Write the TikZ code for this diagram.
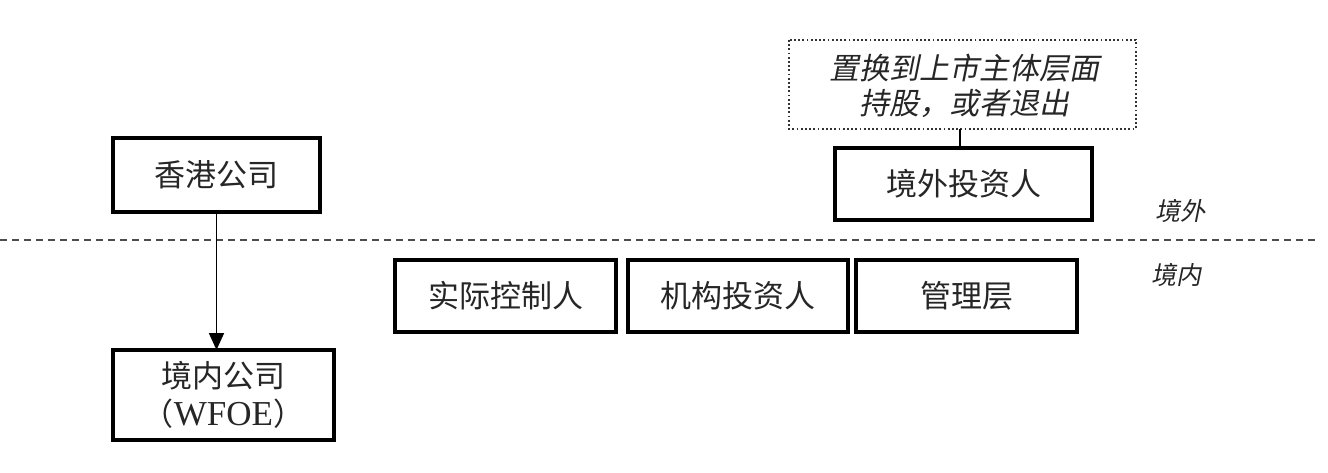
\documentclass[tikz,border=0pt]{standalone}
\usepackage{fontspec}
\setmainfont{Liberation Serif}
\newfontfamily\cjk{Noto Sans CJK SC}
\newfontfamily\cjki[FakeSlant=0.2]{Noto Sans CJK SC}
\usetikzlibrary{arrows.meta}
\begin{document}
\begin{tikzpicture}[x=1pt,y=-1pt,
  boxst/.style={draw,line width=3.2pt,inner sep=0pt},
  lbl/.style={font=\cjk\fontsize{31}{38}\selectfont,text=black!85},
  conn/.style={line width=1.8pt}]
\useasboundingbox (0,0) rectangle (1328,472);
\fill[white] (0,0) rectangle (1328,472);
% dashed border line
\draw[line width=1.8pt,black!70,dash pattern=on 7pt off 5pt] (0,240) -- (1318,240);
% boxes
\draw[boxst] (113,138) rectangle (320,212); \node[lbl] (hk) at (216.5,175) {香港公司};
\coordinate (hkb) at (216.5,212);
\draw[boxst] (113,350) rectangle (334,440);
\node[lbl,align=center] (dom) at (223.5,395) {境内公司\\（{\rmfamily\fontsize{35}{38}\selectfont WFOE}）};
\coordinate (domt) at (216.5,350);
\draw[boxst] (835,148) rectangle (1092,220); \node[lbl] (fi) at (963.5,184) {境外投资人};
\coordinate (fit) at (960,148);
\draw[boxst] (395,260) rectangle (616,332); \node[lbl] (ac) at (505.5,296) {实际控制人};
\draw[boxst] (628,260) rectangle (848,332); \node[lbl] (ii) at (738,296) {机构投资人};
\draw[boxst] (856,260) rectangle (1077,332); \node[lbl] (mg) at (966.5,296) {管理层};
% dotted note
\draw[line width=1.8pt,black!80,dash pattern=on 1.8pt off 2.4pt] (789,40) rectangle (1136,129);
\coordinate (noteb) at (960,129);
\node[font=\cjki\fontsize{30}{35}\selectfont,align=center,text=black!85] (note) at (964,86) {置换到上市主体层面\\持股，或者退出};
% connectors
\draw[conn,-{Triangle[length=17pt,width=15pt]}] (hkb) -- (domt);
\draw[conn] (noteb) -- (fit);
% side labels
\node[font=\cjki\fontsize{25}{30}\selectfont,text=black!85] (out) at (1180,211) {境外};
\node[font=\cjki\fontsize{25}{30}\selectfont,text=black!85] (in) at (1176,275) {境内};
\end{tikzpicture}
\end{document}
